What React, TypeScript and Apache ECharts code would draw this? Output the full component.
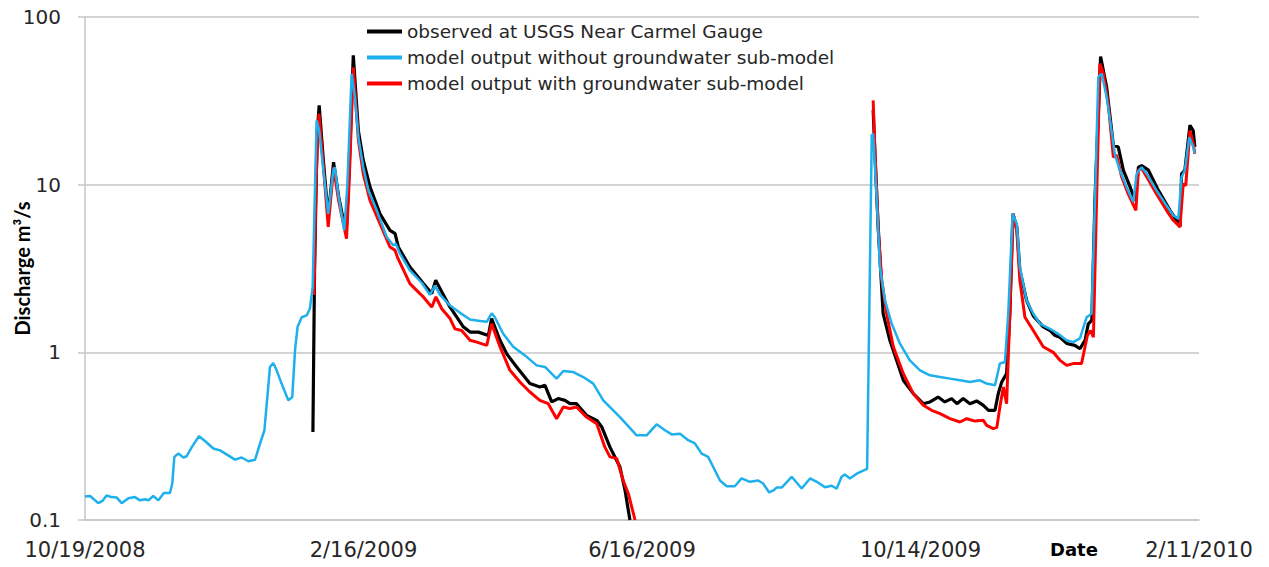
import React, { useEffect, useRef } from "react";
import * as echarts from "echarts";

// Days since 10/19/2008 and discharge (m³/s)
const startDate = Date.UTC(2008, 9, 19);
const xTickDays = [0, 120, 240, 360, 480];

const observedName = "observed at USGS Near Carmel Gauge";
const noGwName = "model output without groundwater sub-model";
const withGwName = "model output with groundwater sub-model";

const observedDays = [
  98.2, 98.9, 100, 100.9, 102.7, 104.8, 107.1, 109.3, 112.5, 113.8, 115.6, 117.8, 119.9, 122.8, 127.1, 131.4,
  133.6, 135, 140, 145.8, 149.4, 151.1, 153.7, 157.3, 160.2, 163, 165.9, 169.5, 173.8, 175.2, 178.8, 181.7,
  186, 191.7, 196, 198.2, 201.1, 203.9, 206.8, 209, 211.8, 216.1, 220.5, 222.6, 226.2, 230.5, 232.7, 234.8,
  300,
  339.6, 340.3, 341.8, 343.9, 346.8, 349.7, 352.6, 356.9, 361.2, 364.1, 367.6, 370.5, 373.4, 375.7, 378.4,
  381.3, 384.2, 387.1, 389.3, 392.1, 393.5, 395, 397.1, 398.5, 399.8, 401.5, 402.8, 405.7, 408.6, 412.9,
  415.8, 418, 420.1, 423, 426.5, 428.7, 430.9, 432.3, 433.8, 435.2, 437.6, 440.2, 443.1, 445.2, 447.4,
  450.3, 452.4, 453.9, 455.3, 458.2, 462.5, 467.5, 470.4, 471.8, 472.5, 473.9, 476.1, 477.5, 478.2,
];
const observedFlow = [
  0.335, 3.0, 20, 29.7, 14, 6.4, 13.6, 8.5, 5.1, 12, 59, 21, 14, 9.7, 6.7, 5.34,
  5.1, 4.25, 3.23, 2.57, 2.24, 2.69, 2.3, 1.86, 1.62, 1.42, 1.32, 1.32, 1.26, 1.59, 1.18, 0.98,
  0.818, 0.651, 0.621, 0.636, 0.506, 0.53, 0.517, 0.494, 0.494, 0.421, 0.393, 0.36, 0.272, 0.207, 0.15, 0.1,
  null,
  28, 16, 5.5, 1.7, 1.18, 0.896, 0.681, 0.567, 0.494, 0.506, 0.541, 0.506, 0.53, 0.494, 0.53,
  0.494, 0.513, 0.483, 0.451, 0.451, 0.567, 0.665, 0.746, 1.7, 6.7, 5.6, 3.1, 2.04, 1.65, 1.42,
  1.35, 1.26, 1.23, 1.13, 1.1, 1.05, 1.18, 1.48, 1.55, 8.4, 58, 38.2, 17.2, 16.8, 12.2,
  9.7, 8.06, 12.7, 13.0, 12.2, 9.25, 7.03, 6.13, 5.6, 11.6, 12.2, 22.6, 21, 16.8,
];

const noGwDays = [
  0, 2.2, 5.7, 7.5, 9.3, 11.5, 13.7, 15.8, 18.7, 21.5, 23.7, 25.9, 27.3, 29.4, 31.6, 34, 36.6, 37.6, 38.5,
  40.2, 42.4, 43.8, 46, 49.1, 51.7, 55.3, 58.2, 61.7, 64.6, 67.5, 70.4, 73.3, 75.4, 77.3, 78.7, 79.7, 81.1,
  82.6, 84.7, 87.6, 89.3, 90.5, 91.6, 93.4, 95.5, 96.9, 98.1, 99.1, 99.8, 100.9, 102.7, 104.8, 107, 107.7,
  109.1, 111.7, 113, 114.9, 116.3, 117.8, 119.9, 122.1, 125.7, 130, 132.8, 134, 135.7, 140, 145.1, 148.6,
  150.8, 153, 157.3, 161.6, 165.9, 170.2, 173.1, 175.2, 176.6, 180.2, 184.5, 190.3, 194.6, 198.2, 203.2,
  206.1, 210.4, 214.7, 219, 223.3, 230.5, 237.7, 242, 246.3, 249.9, 252.8, 256.4, 259.9, 262.8, 265.7,
  268.5, 270.7, 273.6, 276.5, 280, 282.9, 286.5, 290.1, 292.2, 294.8, 296.6, 298, 300.2, 304.5, 308.8,
  312.4, 315.3, 318.8, 321.7, 323.9, 326, 327.4, 329.6, 332.5, 337, 339, 339.6, 341.1, 342.5, 344.7, 347.6,
  351.1, 355.4, 359.8, 364.1, 368.4, 372.7, 377, 381.3, 385.6, 388.5, 392.1, 394.2, 396.4, 397.8, 399.7,
  401.5, 402.8, 405.7, 408.6, 411.5, 415.8, 419.3, 422.9, 425.8, 428.7, 431.6, 433.7, 435.2, 436.6, 438.1,
  440.2, 442.3, 443.8, 445.9, 448.8, 451.7, 453.1, 455.3, 457.5, 461.7, 466, 468.9, 471.1, 472.5, 473.9,
  475.8, 477.5, 478.2,
];
const noGwFlow = [
  0.138, 0.139, 0.126, 0.13, 0.14, 0.137, 0.136, 0.126, 0.135, 0.137, 0.131, 0.133, 0.131, 0.139, 0.131, 0.145, 0.145, 0.165, 0.238,
  0.249, 0.236, 0.24, 0.272, 0.316, 0.296, 0.267, 0.26, 0.243, 0.229, 0.236, 0.224, 0.229, 0.285, 0.343, 0.567, 0.818, 0.863,
  0.781, 0.651, 0.517, 0.541, 1.03, 1.42, 1.62, 1.66, 1.82, 2.45, 9.7, 24.2, 21, 12.2, 6.7, 12.2, 12.7,
  8.8, 5.34, 9.7, 45.9, 33.3, 19.2, 12.7, 9.25, 7.03, 4.87, 4.35, 4.43, 3.88, 3.08, 2.6, 2.2,
  2.5, 2.2, 1.9, 1.72, 1.57, 1.54, 1.52, 1.71, 1.62, 1.29, 1.08, 0.94, 0.836, 0.818, 0.697,
  0.774, 0.763, 0.712, 0.651, 0.517, 0.411, 0.32, 0.32, 0.372, 0.343, 0.324, 0.327, 0.299, 0.286, 0.249,
  0.238, 0.207, 0.172, 0.159, 0.159, 0.177, 0.169, 0.172, 0.165, 0.146, 0.15, 0.156, 0.156, 0.181, 0.154,
  0.177, 0.169, 0.157, 0.16, 0.154, 0.181, 0.187, 0.177, 0.189, 0.202, 19.7, 20.1, 8.4, 3.23, 2.04, 1.48,
  1.13, 0.896, 0.781, 0.729, 0.712, 0.697, 0.681, 0.665, 0.681, 0.651, 0.636, 0.857, 0.875, 1.7, 6.7,
  5.85, 3.23, 2.04, 1.7, 1.48, 1.38, 1.29, 1.18, 1.15, 1.21, 1.62, 1.7, 8.4, 43.8, 45.9,
  33.3, 21, 15, 12.2, 9.7, 7.87, 11.6, 12.7, 11.6, 9.25, 7.52, 6.56, 6.27, 11.1, 12.2,
  19.2, 16.8, 15.4,
];

const withGwDays = [
  98.7, 99.5, 100.8, 102.7, 104.8, 107.1, 109.3, 112.7, 113.9, 115.6, 117.8, 119.9, 122.8, 127.1, 131.4, 133.6,
  134.6, 140, 144.3, 145.8, 149.4, 151.2, 153.7, 157.3, 159.4, 162.3, 165.9, 168.8, 173.1, 175.2, 178.8, 183.1,
  187.4, 191.7, 196, 199.6, 203.2, 206.1, 209, 211.8, 216.1, 220.5, 224, 226.2, 229.1, 231.9, 234.1, 237,
  300,
  339.6, 340.3, 341.8, 343.3, 345.4, 348.3, 352.6, 356.9, 361.2, 364.8, 368.4, 372.7, 377, 379.9, 383.5,
  387.1, 388.5, 391.4, 392.9, 394.2, 395.7, 397.1, 398.5, 399.9, 401.5, 402.8, 405, 408.6, 412.9, 417.2,
  420.1, 423, 425.8, 429.4, 431.9, 433.3, 434.5, 435.9, 437.3, 438.8, 440.9, 443.1, 444.5, 446.7, 449.5,
  452.8, 453.9, 455.3, 457.5, 461.7, 466, 468.9, 471.8, 473.2, 474.3, 476.1, 477.5, 478.2,
];
const withGwFlow = [
  2.2, 10, 26.5, 13, 5.6, 12.7, 8, 4.77, 11, 50, 18.4, 11.6, 8.06, 5.85, 4.25, 4.06,
  3.7, 2.57, 2.24, 2.14, 1.86, 2.14, 1.82, 1.59, 1.38, 1.35, 1.18, 1.15, 1.1, 1.48, 1.08, 0.781,
  0.665, 0.58, 0.517, 0.494, 0.402, 0.472, 0.462, 0.472, 0.411, 0.375, 0.272, 0.238, 0.233, 0.172, 0.144, 0.1,
  null,
  31.8, 16.8, 5.34, 2.69, 1.7, 1.08, 0.746, 0.567, 0.483, 0.451, 0.431, 0.402, 0.384, 0.402, 0.389,
  0.393, 0.367, 0.351, 0.357, 0.472, 0.621, 0.494, 1.7, 6.7, 5.3, 2.69, 1.62, 1.35, 1.08, 1.0,
  0.896, 0.836, 0.857, 0.857, 1.26, 1.35, 1.23, 8.4, 52.6, 45.9, 30.4, 14.6, 15, 11.1, 8.8,
  7.03, 12.2, 12.5, 11.1, 8.8, 7.03, 6.13, 5.6, 10.1, 9.9, 21, 17.6, 15.3,
];

const zip = (xs: number[], ys: (number | null)[]) => xs.map((x, i) => [x, ys[i]]);

const fmtDate = (v: number) => {
  const d = new Date(startDate + v * 86400000);
  return `${d.getUTCMonth() + 1}/${d.getUTCDate()}/${d.getUTCFullYear()}`;
};

export default function App() {
  const ref = useRef<HTMLDivElement>(null);
  useEffect(() => {
    document.body.style.margin = "0";
    if (!ref.current) return;
    const chart = echarts.init(ref.current, null, { renderer: "svg" });
    const gridColor = "#c6c6c6";
    chart.setOption({
      animation: false,
      backgroundColor: "#ffffff",
      grid: { left: 85, right: 70, top: 17, bottom: 47, containLabel: false, outerBoundsMode: "none" },
      legend: {
        data: [observedName, noGwName, withGwName],
        orient: "vertical",
        left: 362,
        top: 16,
        icon: "rect",
        itemWidth: 35,
        itemHeight: 4,
        itemGap: 5,
        textStyle: { fontFamily: "DejaVu Sans", fontSize: 18.5, color: "#262626", lineHeight: 21 },
      },
      xAxis: {
        type: "value",
        min: 0,
        max: 480,
        interval: 120,
        axisLine: { show: true, lineStyle: { color: gridColor, width: 1.5 } },
        axisTick: { show: false },
        splitLine: { show: false },
        axisLabel: {
          formatter: fmtDate,
          fontFamily: "DejaVu Sans",
          fontSize: 21,
          color: "#262626",
          margin: 19,
        },
      },
      yAxis: {
        type: "log",
        logBase: 10,
        min: 0.1,
        max: 100,
        name: "Discharge m³/s",
        nameLocation: "middle",
        nameGap: 53,
        nameMoveOverlap: false,
        nameTextStyle: { fontFamily: "Lato", fontWeight: "bold", fontSize: 20, color: "#000" },
        axisLine: { show: true, onZero: false, lineStyle: { color: gridColor, width: 1.5 } },
        axisTick: { show: true, inside: false, length: 7, lineStyle: { color: gridColor, width: 1.5 } },
        minorTick: { show: false },
        splitLine: { show: true, lineStyle: { color: gridColor, width: 1.5 } },
        axisLabel: {
          formatter: (v: number) => (v < 1 ? v.toFixed(1) : String(Math.round(v))),
          fontFamily: "DejaVu Sans",
          fontSize: 20,
          color: "#262626",
          margin: 24,
        },
      },
      graphic: [
        {
          type: "text",
          left: 1050,
          top: 540,
          style: { text: "Date", fontFamily: "DejaVu Sans", fontWeight: "bold", fontSize: 18, fill: "#000" },
        },
      ],
      series: [
        {
          name: observedName,
          type: "line",
          data: zip(observedDays, observedFlow),
          showSymbol: false,
          connectNulls: false,
          lineStyle: { color: "#000000", width: 3.2 },
          itemStyle: { color: "#000000" },
        },
        {
          name: withGwName,
          type: "line",
          data: zip(withGwDays, withGwFlow),
          showSymbol: false,
          connectNulls: false,
          lineStyle: { color: "#ff0000", width: 3 },
          itemStyle: { color: "#ff0000" },
        },
        {
          name: noGwName,
          type: "line",
          data: zip(noGwDays, noGwFlow),
          showSymbol: false,
          lineStyle: { color: "#1eb0ec", width: 2.5 },
          itemStyle: { color: "#1eb0ec" },
        },
      ],
    });
    return () => chart.dispose();
  }, []);
  return <div ref={ref} style={{ width: 1269, height: 567 }} />;
}
